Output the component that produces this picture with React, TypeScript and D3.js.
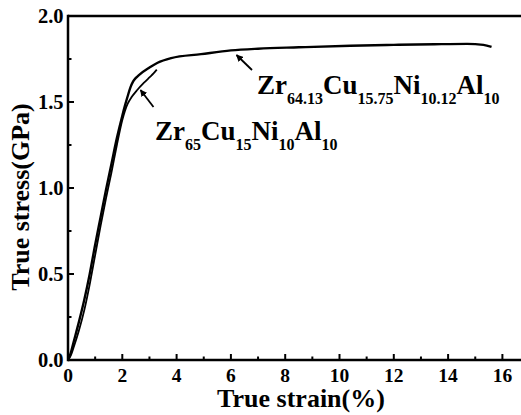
import React from "react";
import * as d3 from "d3";

// Zr64.13Cu15.75Ni10.12Al10 (long curve)
const strainA = [0, 0.1, 0.2, 0.4, 0.6, 0.8, 1.0, 1.2, 1.4, 1.6, 1.8, 2.0, 2.1, 2.2, 2.3, 2.4, 2.5, 2.6, 3.0, 3.3, 3.8, 4.9, 6.0, 7.0, 8.5, 10.4, 12, 13.5, 14.7, 15.3, 15.6];
const stressA = [0, 0.04, 0.1, 0.22, 0.35, 0.5, 0.67, 0.83, 0.99, 1.14, 1.29, 1.42, 1.48, 1.535, 1.585, 1.62, 1.64, 1.655, 1.7, 1.728, 1.755, 1.778, 1.8, 1.81, 1.818, 1.827, 1.832, 1.836, 1.838, 1.832, 1.82];

// Zr65Cu15Ni10Al10 (short curve)
const strainB = [0, 0.1, 0.2, 0.4, 0.6, 0.8, 1.0, 1.2, 1.4, 1.6, 1.8, 2.0, 2.1, 2.2, 2.35, 2.55, 2.8, 3.0, 3.15, 3.27];
const stressB = [0, 0.025, 0.07, 0.17, 0.29, 0.44, 0.61, 0.78, 0.94, 1.09, 1.25, 1.395, 1.45, 1.49, 1.53, 1.57, 1.612, 1.643, 1.666, 1.688];

const xMajorTicks = [0, 2, 4, 6, 8, 10, 12, 14, 16];
const xMinorTicks = [1, 3, 5, 7, 9, 11, 13, 15];
const yMajorTicks = [0, 0.5, 1.0, 1.5, 2.0];
const yMinorTicks = [0.25, 0.75, 1.25, 1.75];

const xTitle = "True strain(%)";
const yTitle = "True stress(GPa)";

const labelA = [["Zr", "64.13"], ["Cu", "15.75"], ["Ni", "10.12"], ["Al", "10"]];
const labelB = [["Zr", "65"], ["Cu", "15"], ["Ni", "10"], ["Al", "10"]];

const W = 521;
const H = 415;
const FONT = "'Liberation Serif', 'Times New Roman', serif";

export default function App() {
  const x = d3.scaleLinear().domain([0, 17]).range([68, 68 + 17 * 27.15]);
  const y = d3.scaleLinear().domain([0, 2]).range([360, 16]);

  const line = d3
    .line<[number, number]>()
    .x((d) => x(d[0]))
    .y((d) => y(d[1]))
    .curve(d3.curveMonotoneX);

  const dataA: [number, number][] = strainA.map((s, i) => [s, stressA[i]]);
  const dataB: [number, number][] = strainB.map((s, i) => [s, stressB[i]]);

  const renderLabel = (parts: string[][], xPos: number, yPos: number) => (
    <text x={xPos} y={yPos} fontFamily={FONT} fontWeight="bold" fontSize={27} fill="#000">
      {parts.map(([el, sub], i) => (
        <React.Fragment key={i}>
          <tspan dy={i === 0 ? 0 : -10}>{el}</tspan>
          <tspan dy={10} fontSize={16}>{sub}</tspan>
        </React.Fragment>
      ))}
    </text>
  );

  return (
    <svg width={W} height={H} style={{ position: "absolute", left: 0, top: 0 }}>
      <rect x={0} y={0} width={W} height={H} fill="#fff" />
      {/* curves */}
      <path d={line(dataA) || ""} fill="none" stroke="#000" strokeWidth={2.4} />
      <path d={line(dataB) || ""} fill="none" stroke="#000" strokeWidth={1.8} />

      {/* axes frame */}
      <line x1={x(0)} x2={W} y1={y(0)} y2={y(0)} stroke="#000" strokeWidth={2.5} />
      <line x1={x(0)} x2={W} y1={y(2)} y2={y(2)} stroke="#000" strokeWidth={2.5} />
      <line x1={x(0)} x2={x(0)} y1={y(0) + 1.25} y2={y(2) - 1.25} stroke="#000" strokeWidth={2.5} />

      {/* x ticks */}
      {xMajorTicks.map((t) => (
        <g key={"xm" + t}>
          <line x1={x(t)} x2={x(t)} y1={y(0)} y2={y(0) - 6} stroke="#000" strokeWidth={2} />
          <text x={x(t)} y={381.5} textAnchor="middle" fontFamily={FONT} fontWeight="bold" fontSize={19.5}>
            {t}
          </text>
        </g>
      ))}
      {xMinorTicks.map((t) => (
        <line key={"xn" + t} x1={x(t)} x2={x(t)} y1={y(0)} y2={y(0) - 3.5} stroke="#000" strokeWidth={2} />
      ))}

      {/* y ticks */}
      {yMajorTicks.map((t) => (
        <g key={"ym" + t}>
          <line x1={x(0)} x2={x(0) + 6} y1={y(t)} y2={y(t)} stroke="#000" strokeWidth={2} />
          <text x={63.5} y={y(t) + 6.5} textAnchor="end" fontFamily={FONT} fontWeight="bold" fontSize={20.5}>
            {t.toFixed(1)}
          </text>
        </g>
      ))}
      {yMinorTicks.map((t) => (
        <line key={"yn" + t} x1={x(0)} x2={x(0) + 3.5} y1={y(t)} y2={y(t)} stroke="#000" strokeWidth={2} />
      ))}

      {/* titles */}
      <text x={301} y={407} textAnchor="middle" fontFamily={FONT} fontWeight="bold" fontSize={26}>
        {xTitle}
      </text>
      <text
        transform="translate(29,197) rotate(-90)"
        textAnchor="middle"
        fontFamily={FONT}
        fontWeight="bold"
        fontSize={26}
      >
        {yTitle}
      </text>

      {/* arrows */}
      <defs>
        <marker id="ah" viewBox="0 0 10 10" refX={9} refY={5} markerWidth={7} markerHeight={7} markerUnits="userSpaceOnUse" orient="auto">
          <path d="M0,0 L10,5 L0,10 z" fill="#000" />
        </marker>
      </defs>
      <line x1={252} y1={70} x2={236.5} y2={55} stroke="#000" strokeWidth={1.8} markerEnd="url(#ah)" />
      <line x1={153.5} y1={107} x2={140.5} y2={90} stroke="#000" strokeWidth={1.8} markerEnd="url(#ah)" />

      {/* labels */}
      {renderLabel(labelA, 257, 93.5)}
      {renderLabel(labelB, 155, 140)}
    </svg>
  );
}
